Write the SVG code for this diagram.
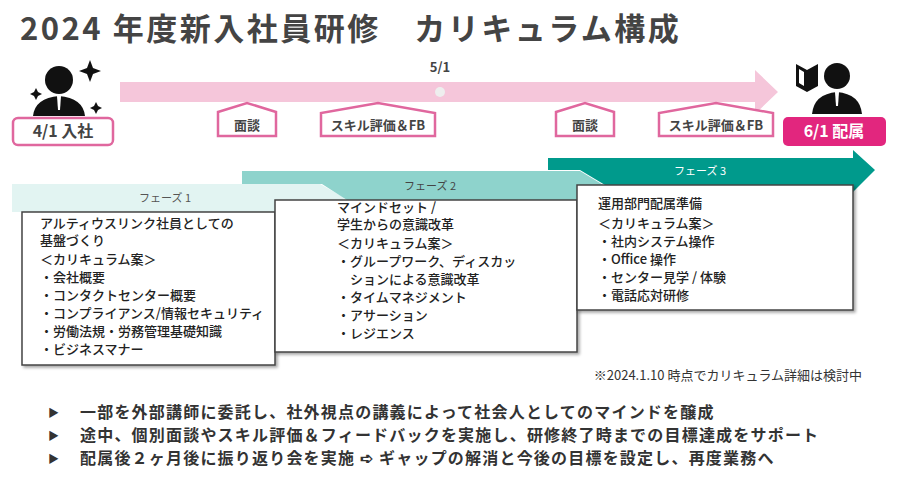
<svg xmlns="http://www.w3.org/2000/svg" width="900" height="500" viewBox="0 0 900 500">
<style>
text{font-family:"Noto Sans CJK JP","Noto Sans",sans-serif;}
.t{font-size:13px;fill:#222;font-weight:500}
.tag{fill:#fff;stroke:#e0679e;stroke-width:2.5}
.tagt{font-size:13px;fill:#444;font-weight:700;text-anchor:middle}
.box{fill:#fff;stroke:#444;stroke-width:1.5}
.ph{font-size:11px;text-anchor:middle}
.b{font-size:16px;font-weight:700;fill:#333;letter-spacing:1.2px}
</style>
<defs><filter id="sh" x="-5%" y="-5%" width="115%" height="115%"><feDropShadow dx="2" dy="2" stdDeviation="1.5" flood-opacity="0.35"/></filter></defs>
<rect width="900" height="500" fill="#fff"/>
<text x="20" y="40" font-size="31" font-weight="700" fill="#444" letter-spacing="2.5">2024 年度新入社員研修　カリキュラム構成</text>
<g id="timeline">
<path d="M120 82 H755 V70 L778 92 L755 114 V102 H120 Z" fill="#f5c6da"/>
<circle cx="440" cy="92" r="5" fill="#eee"/>
<text x="440" y="72" font-size="13" font-weight="700" fill="#444" text-anchor="middle">5/1</text>
</g>
<g id="start">
<circle cx="59" cy="80" r="14" fill="#111"/>
<path d="M33 116 Q35 98 59 96 Q83 98 85 116 Z" fill="#111"/>
<path d="M57 96 L61 96 L60 110 L58 110 Z" fill="#fff"/>
<path d="M90 60 l3 8 l8 3 l-8 3 l-3 8 l-3 -8 l-8 -3 l8 -3z M36 88 l2 4 l4 2 l-4 2 l-2 4 l-2 -4 l-4 -2 l4 -2z M96 102 l2 4 l4 2 l-4 2 l-2 4 l-2 -4 l-4 -2 l4 -2z" fill="#111"/>
<rect x="13" y="118" width="100" height="27" rx="5" fill="#fff" stroke="#e0679e" stroke-width="2.5"/>
<text x="63" y="137" font-size="16" font-weight="700" fill="#444" text-anchor="middle">4/1 入社</text>
</g>
<g id="end">
<path d="M796 64 L807 70 V92 L796 86 Z M799 69 V83 L804 86 V72 Z" fill="#111" fill-rule="evenodd"/>
<path d="M807 70 L818 64 V86 L807 92 Z" fill="#111"/>
<circle cx="837" cy="76" r="13" fill="#111"/>
<path d="M812 114 Q814 94 837 92 Q860 94 862 114 Z" fill="#111"/>
<path d="M835 92 L839 92 L838 106 L836 106 Z" fill="#fff"/>
<rect x="783" y="117" width="103" height="29" rx="5" fill="#e2267e"/>
<text x="834" y="137" font-size="16" font-weight="700" fill="#fff" text-anchor="middle">6/1 配属</text>
</g>
<g id="tags">
<path class="tag" d="M218 136 V112 L247 103 L276 112 V136 Z"/><text class="tagt" x="247" y="130">面談</text>
<path class="tag" d="M321 136 V113 L378 103 L435 113 V136 Z"/><text class="tagt" x="378" y="130">スキル評価＆FB</text>
<path class="tag" d="M556 136 V112 L585 103 L614 112 V136 Z"/><text class="tagt" x="585" y="130">面談</text>
<path class="tag" d="M659 136 V113 L716 103 L773 113 V136 Z"/><text class="tagt" x="716" y="130">スキル評価＆FB</text>
</g>
<g id="phase1">
<path d="M12 184 H320 L345 198 L320 212 H12 Z" fill="#e2f4f2"/>
<text class="ph" x="165" y="202" fill="#555">フェーズ 1</text>
<rect class="box" x="22" y="212" width="253" height="153" filter="url(#sh)"/>
<text class="t" x="40" y="228">アルティウスリンク社員としての</text>
<text class="t" x="40" y="245">基盤づくり</text>
<text class="t" x="40" y="264">＜カリキュラム案＞</text>
<text class="t" x="40" y="282">・会社概要</text>
<text class="t" x="40" y="300">・コンタクトセンター概要</text>
<text class="t" x="40" y="318">・コンプライアンス/情報セキュリティ</text>
<text class="t" x="40" y="336">・労働法規・労務管理基礎知識</text>
<text class="t" x="40" y="354">・ビジネスマナー</text>
</g>
<g id="phase2">
<path d="M242 171 H580 L605 186 L580 200 H347 L322 184 H242 Z" fill="#8ed3cc"/>
<text class="ph" x="430" y="190" fill="#444">フェーズ 2</text>
<rect class="box" x="275" y="200" width="302" height="152" filter="url(#sh)"/>
<text class="t" x="337" y="212">マインドセット /</text>
<text class="t" x="337" y="229">学生からの意識改革</text>
<text class="t" x="337" y="248">＜カリキュラム案＞</text>
<text class="t" x="337" y="266">・グループワーク、ディスカッ</text>
<text class="t" x="337" y="284">　ションによる意識改革</text>
<text class="t" x="337" y="302">・タイムマネジメント</text>
<text class="t" x="337" y="320">・アサーション</text>
<text class="t" x="337" y="338">・レジエンス</text>
</g>
<g id="phase3">
<path d="M548 158 H853 V150 L875 170 L853 192 V185 H605 L580 170 H548 Z" fill="#009a8c"/>
<text class="ph" x="700" y="175" fill="#fff">フェーズ 3</text>
<rect class="box" x="577" y="185" width="276" height="125" filter="url(#sh)"/>
<text class="t" x="598" y="208" font-weight="700">運用部門配属準備</text>
<text class="t" x="598" y="228">＜カリキュラム案＞</text>
<text class="t" x="598" y="246">・社内システム操作</text>
<text class="t" x="598" y="264">・Office 操作</text>
<text class="t" x="598" y="282">・センター見学 / 体験</text>
<text class="t" x="598" y="300">・電話応対研修</text>
</g>
<text x="862" y="380" font-size="13" fill="#333" text-anchor="end">※2024.1.10 時点でカリキュラム詳細は検討中</text>
<g id="bullets">
<text x="48" y="417" font-size="11" fill="#333">▶</text><text class="b" x="80" y="418">一部を外部講師に委託し、社外視点の講義によって社会人としてのマインドを醸成</text>
<text x="48" y="440" font-size="11" fill="#333">▶</text><text class="b" x="80" y="441">途中、個別面談やスキル評価＆フィードバックを実施し、研修終了時までの目標達成をサポート</text>
<text x="48" y="463" font-size="11" fill="#333">▶</text><text class="b" x="80" y="464">配属後２ヶ月後に振り返り会を実施 ➪ ギャップの解消と今後の目標を設定し、再度業務へ</text>
</g>
</svg>
